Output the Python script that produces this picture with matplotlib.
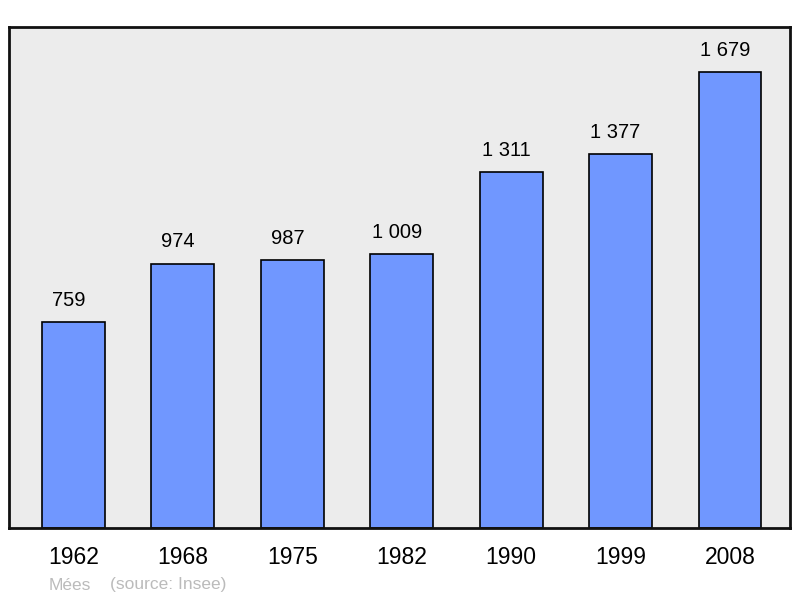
import matplotlib
matplotlib.use('Agg')
import matplotlib.pyplot as plt

years = ['1962', '1968', '1975', '1982', '1990', '1999', '2008']
population = [759, 974, 987, 1009, 1311, 1377, 1679]
labels = ['759', '974', '987', '1 009', '1 311', '1 377', '1 679']

plt.rcParams['font.family'] = ['Liberation Sans', 'DejaVu Sans']

fig = plt.figure(figsize=(8, 5.98), dpi=100)
ax = fig.add_axes([9 / 800, 1 - 528 / 598, 781 / 800, 501 / 598])
ax.set_facecolor('#ececec')

x = list(range(len(years)))
ax.bar(x, population, width=0.575, color='#7097ff', edgecolor='black', linewidth=1.2, zorder=2)
for xi, v, lab in zip(x, population, labels):
    ax.annotate(lab, (xi, v), xytext=(-5, 22), textcoords='offset pixels',
                ha='center', va='center', fontsize=14.5, color='black')

ax.set_xlim(-0.589, 6.548)
ax.set_ylim(0, 1846)
ax.set_xticks(x)
ax.set_xticklabels(years, fontsize=16.5)
ax.tick_params(axis='x', length=0, pad=13)
ax.set_yticks([])
for s in ax.spines.values():
    s.set_linewidth(2)
    s.set_color('#111111')

fig.text(49 / 800, 1 - 585 / 598, 'Mées', fontsize=12.5, color='#bbbbbb', va='center')
fig.text(110 / 800, 1 - 585 / 598, '(source: Insee)', fontsize=12.5, color='#bbbbbb', va='center')

fig.savefig('out.png', dpi=100)
